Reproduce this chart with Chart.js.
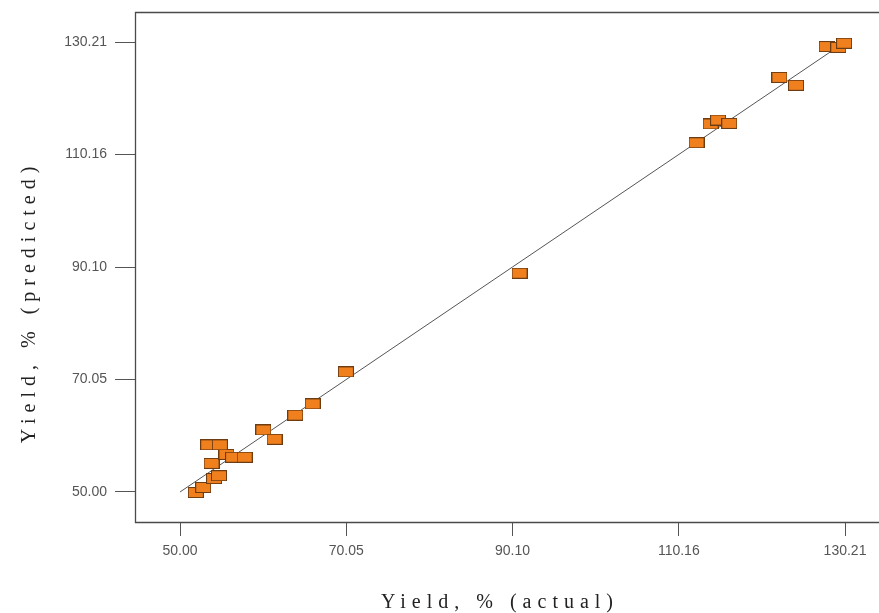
<!DOCTYPE html>
<html>
<head>
<meta charset="utf-8">
<script src="https://cdn.jsdelivr.net/npm/chart.js@4/dist/chart.umd.min.js"></script>
<style>
html,body{margin:0;padding:0;background:#fff;}
#c{display:block;}
</style>
</head>
<body>
<canvas id="c" width="879" height="613"></canvas>
<script>
// ---- data ----
const actual = [51.9, 52.8, 54.1, 54.7, 53.8, 55.6, 56.4, 57.8, 53.4, 54.8, 60.05, 61.4, 63.9, 66.0, 70.0, 90.95, 112.3, 114.0, 114.9, 116.25, 122.3, 124.3, 128.0, 129.4, 130.1];
const predicted = [49.9, 50.8, 52.4, 52.9, 55.1, 56.7, 56.2, 56.2, 58.4, 58.4, 61.05, 59.4, 63.7, 65.7, 71.4, 89.0, 112.25, 115.6, 116.3, 115.7, 123.9, 122.5, 129.4, 129.25, 130.0];
const tickValues = [50.00, 70.05, 90.10, 110.16, 130.21];
const tickLabels = ['50.00', '70.05', '90.10', '110.16', '130.21'];
const fitLine = [50.00, 130.21];
const xTitle = 'Yield, % (actual)';
const yTitle = 'Yield, % (predicted)';

// marker image (rectangle)
const mk = document.createElement('canvas');
mk.width = 16; mk.height = 11;
const mctx = mk.getContext('2d');
mctx.fillStyle = '#f0801e';
mctx.fillRect(0, 0, 16, 11);
mctx.strokeStyle = '#6e3c12';
mctx.lineWidth = 1;
mctx.strokeRect(0.5, 0.5, 15, 10);

const points = actual.map((a, i) => ({x: a, y: predicted[i]}));
const linePts = fitLine.map(v => ({x: v, y: v}));

function setTicks(scale) {
  scale.ticks = tickValues.map(v => ({value: v}));
}
function noPad(scale) {
  scale.paddingLeft = 0; scale.paddingRight = 0;
  scale.paddingTop = 0; scale.paddingBottom = 0;
}

const framePlugin = {
  id: 'frame',
  beforeDatasetsDraw(chart) {
    const {ctx, chartArea: a} = chart;
    ctx.save();
    ctx.strokeStyle = '#4a4a4a';
    ctx.lineWidth = 1.3;
    ctx.beginPath();
    ctx.moveTo(a.right + 1, a.top + 0.5);
    ctx.lineTo(a.left + 0.5, a.top + 0.5);
    ctx.lineTo(a.left + 0.5, a.bottom + 0.5);
    ctx.lineTo(a.right + 1, a.bottom + 0.5);
    ctx.stroke();
    ctx.restore();
  },
  afterDraw(chart) {
    const ctx = chart.ctx;
    const ls = 6;
    ctx.save();
    ctx.fillStyle = '#222';
    ctx.font = '20px "Liberation Serif", "Times New Roman", serif';
    ctx.textBaseline = 'alphabetic';
    ctx.textAlign = 'left';
    try { ctx.letterSpacing = ls + 'px'; } catch (e) {}
    let w = ctx.measureText(xTitle).width - ls;
    ctx.fillText(xTitle, 497 - w / 2, 608);
    ctx.translate(35, 305);
    ctx.rotate(-Math.PI / 2);
    w = ctx.measureText(yTitle).width - ls;
    ctx.fillText(yTitle, -w / 2, 0);
    ctx.restore();
  }
};

new Chart(document.getElementById('c'), {
  type: 'scatter',
  data: {
    datasets: [
      {
        type: 'line',
        data: linePts,
        borderColor: '#555',
        borderWidth: 1,
        pointRadius: 0,
        fill: false,
        order: 2
      },
      {
        data: points,
        pointStyle: mk,
        pointRadius: 8,
        order: 1
      }
    ]
  },
  options: {
    responsive: false,
    animation: false,
    layout: {autoPadding: false, padding: {top: 12, left: 0, right: 0, bottom: 0}},
    plugins: {legend: {display: false}, tooltip: {enabled: false}},
    scales: {
      x: {
        type: 'linear',
        min: 44.57,
        max: 134.31,
        afterBuildTicks: setTicks,
        afterFit(scale) { scale.height = 91; noPad(scale); },
        border: {display: false},
        grid: {display: true, drawOnChartArea: false, drawTicks: true, tickLength: 14, color: '#555', lineWidth: 1},
        ticks: {
          callback: (v) => { const i = tickValues.indexOf(v); return i >= 0 ? tickLabels[i] : ''; },
          color: '#555',
          font: {family: '"Liberation Sans", Arial, sans-serif', size: 14},
          padding: 7,
          maxRotation: 0,
          autoSkip: false
        }
      },
      y: {
        type: 'linear',
        min: 44.65,
        max: 135.56,
        afterBuildTicks: setTicks,
        afterFit(scale) { scale.width = 135; noPad(scale); },
        border: {display: false},
        grid: {display: true, drawOnChartArea: false, drawTicks: true, tickLength: 20, color: '#555', lineWidth: 1},
        ticks: {
          callback: (v) => { const i = tickValues.indexOf(v); return i >= 0 ? tickLabels[i] : ''; },
          color: '#555',
          font: {family: '"Liberation Sans", Arial, sans-serif', size: 14},
          padding: 8,
          autoSkip: false
        }
      }
    }
  },
  plugins: [framePlugin]
});
</script>
</body>
</html>
